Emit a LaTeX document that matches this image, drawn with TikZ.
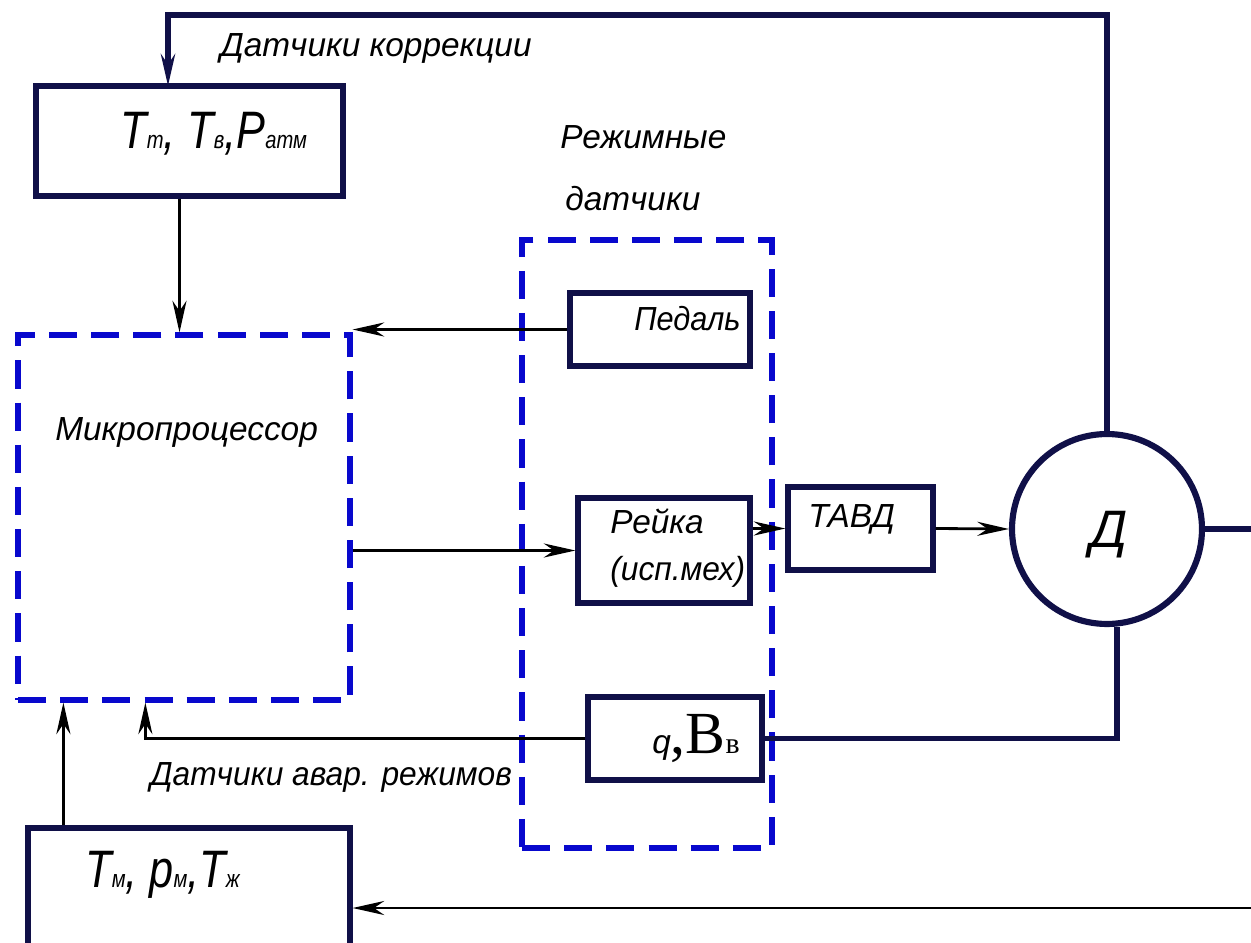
\documentclass[tikz,border=0pt]{standalone}
\usepackage{graphicx}
\usepackage{fontspec}
\usetikzlibrary{arrows.meta}
\setmainfont{Liberation Sans}
\newfontfamily\serifrm{Liberation Serif}
\newcommand\sbs[1]{{\fontsize{14}{16}\selectfont #1}}
\newcommand\narrow[1]{\scalebox{0.82}[1]{#1}}
\definecolor{boxnavy}{RGB}{16,16,72}
\definecolor{dashblue}{RGB}{8,8,205}
\begin{document}
\begin{tikzpicture}[x=0.02cm,y=-0.02cm,>={Stealth[length=18pt,width=8pt]},
  box/.style={draw=boxnavy,line width=3pt,rectangle,inner sep=0pt},
  dashbox/.style={draw=dashblue,line width=3pt,dash pattern=on 16pt off 8pt,rectangle,inner sep=0pt},
  conn/.style={draw=black,line width=1.6pt},
  fbline/.style={draw=boxnavy,line width=3pt},
  lbl/.style={anchor=base west,inner sep=0pt,font=\fontsize{19}{23}\selectfont\itshape},
  biglbl/.style={lbl,font=\fontsize{30}{34}\selectfont\itshape}]
\useasboundingbox (0,0) rectangle (1251,943);
\clip (0,0) rectangle (1251,943);

% blocks
\node[box, minimum width=6.14cm, minimum height=2.2cm] (corr) at (189.5,141) {};
\node[dashbox, minimum width=6.64cm, minimum height=7.3cm] (mp) at (184,517.5) {};
\node[dashbox, minimum width=5cm, minimum height=12.16cm] (modes) at (647,544) {};
\node[box, minimum width=3.6cm, minimum height=1.46cm] (pedal) at (660,329.5) {};
\node[box, minimum width=3.44cm, minimum height=2.1cm] (rack) at (664,550.5) {};
\node[box, minimum width=2.9cm, minimum height=1.66cm] (tavd) at (860.5,528.5) {};
\node[box, circle, line width=3.5pt, minimum size=3.8cm] (engine) at (1107,529) {};
\node[box, minimum width=3.48cm, minimum height=1.66cm] (vb) at (675,738.5) {};
\node[box, minimum width=6.44cm, minimum height=2.64cm] (oil) at (189,894) {};

% texts
\node[biglbl] (corrtxt) at (120,148) {\narrow{Т\sbs{т}, Т\sbs{в},Р\sbs{атм}}};
\node[lbl] (corrlbl) at (220,56) {Датчики коррекции};
\node[lbl] (modeslbl1) at (560,148) {Режимные};
\node[lbl] (modeslbl2) at (565,210) {датчики};
\node[lbl] (mptxt) at (55,440) {Микропроцессор};
\node[lbl] (pedaltxt) at (634,330) {\scalebox{0.92}[1]{Педаль}};
\node[lbl] (racktxt1) at (610,533) {Рейка};
\node[lbl] (racktxt2) at (610,580) {\scalebox{0.95}[1]{(исп.мех)}};
\node[lbl] (tavdtxt) at (808,527) {ТАВД};
\node[biglbl] (enginetxt) at (1090,547) {Д};
\node[lbl] (vbtxt) at (652,753) {q{\serifrm\upshape\fontsize{34}{38}\selectfont ,В}{\serifrm\upshape\fontsize{17}{20}\selectfont в}};
\node[lbl] (alarmlbl) at (150,785) {\scalebox{0.95}[1]{Датчики авар. режимов}};
\node[biglbl] (oiltxt) at (85,887) {\narrow{Т\sbs{м}, р\sbs{м},Т\sbs{ж}}};

% free ends
\coordinate (topline) at (0,15);
\coordinate (corrin) at (168,86);
\coordinate (rightedge) at (1251,0);
\coordinate (oilsrc) at (1251,908);

% connectors
\draw[fbline,->] (engine.north) -- (engine.north |- topline) -| (corrin);
\draw[conn,->] ([xshift=-0.2cm]corr.south) -- ([xshift=-0.2cm]corr.south |- mp.north);
\draw[conn,->] (pedal.west) -- (pedal.west -| mp.east);
\draw[conn,->] (mp.east |- rack.west) -- (rack.west);
\draw[conn,->] (rack.east |- tavd.west) -- (tavd.west);
\draw[conn,->] (tavd.east) -- (engine.west);
\draw[fbline] (engine.east) -- (engine.east -| rightedge);
\draw[fbline] ([xshift=0.2cm]engine.south) |- (vb.east);
\draw[conn,->] (vb.west) -| ([xshift=2.6cm]mp.south west);
\draw[conn,->] ([xshift=0.76cm]oil.north west) -- ([xshift=0.76cm]oil.north west |- mp.south);
\draw[conn,->] (oilsrc) -- (oilsrc -| oil.east);
\end{tikzpicture}
\end{document}
